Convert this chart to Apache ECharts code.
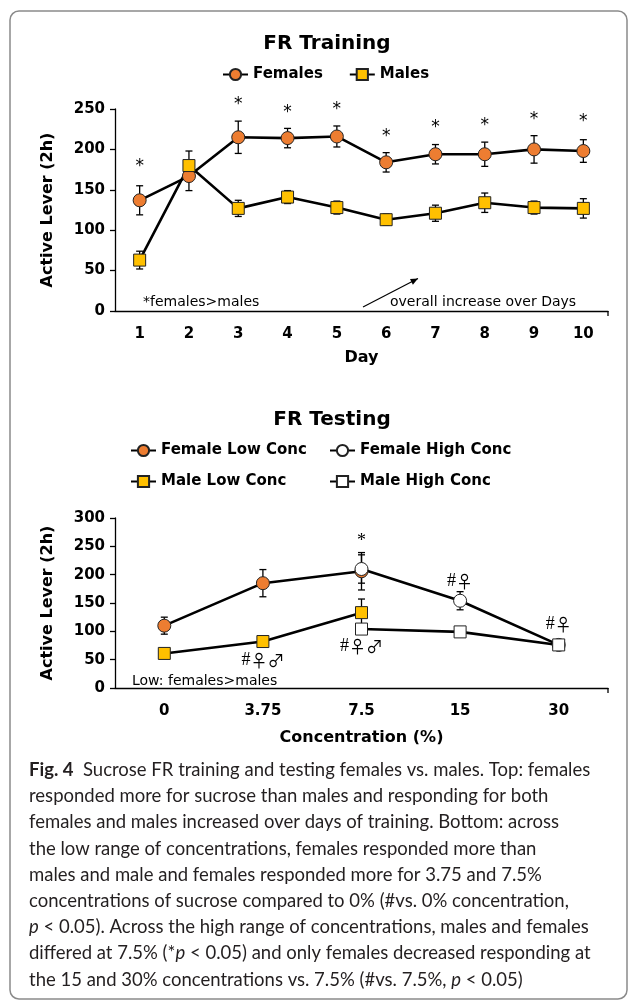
<!DOCTYPE html>
<html>
<head>
<meta charset="utf-8">
<script src="https://cdn.jsdelivr.net/npm/echarts@6/dist/echarts.min.js"></script>
<style>
  html, body { margin: 0; padding: 0; background: #fff; }
  #chart { width: 629px; height: 1004px; }
</style>
</head>
<body>
<div id="chart"></div>
<script>
// top panel: FR training by day
const days = ['1', '2', '3', '4', '5', '6', '7', '8', '9', '10'];
const femalesTrain = [137, 167, 215, 214, 216, 184, 194, 194, 200, 198];
const femalesTrainErr = [18, 18, 20, 12, 13, 12, 12, 15, 17, 14];
const malesTrain = [63, 180, 127, 141, 128, 113, 121, 134, 128, 127];
const malesTrainErr = [11, 18, 10, 8, 8, 7, 10, 12, 8, 12];
// where the "*" marks sit (same units as the y axis)
const trainStars = [184, null, 260, 251, 254, 221, 232, 234, 242, 239];

// bottom panel: FR testing by concentration
const concs = ['0', '3.75', '7.5', '15', '30'];
const femaleLow = [110, 185, 206, null, null];
const femaleLowErr = [15, 24, 33, null, null];
const femaleHigh = [null, null, 210, 154, 76];
const femaleHighErr = [null, null, 25, 16, 4];
const maleLow = [61, 82, 133, null, null];
const maleLowErr = [5, 5, 24, null, null];
const maleHigh = [null, null, 104, 99, 76];
const maleHighErr = [null, null, 5, 5, 5];
const testMarks = [
  ['7.5', 259, '*'],
  ['15', 188, '#♀'],
  ['30', 112, '#♀'],
  ['3.75', 49, '#♀♂'],
  ['7.5', 73, '#♀♂']
];

const captionLines = [
  '{b|Fig. 4}  Sucrose FR training and testing females vs. males. Top: females',
  'responded more for sucrose than males and responding for both',
  'females and males increased over days of training. Bottom: across',
  'the low range of concentrations, females responded more than',
  'males and male and females responded more for 3.75 and 7.5%',
  'concentrations of sucrose compared to 0% (#vs. 0% concentration,',
  '{i|p} < 0.05). Across the high range of concentrations, males and females',
  'differed at 7.5% (*{i|p} < 0.05) and only females decreased responding at',
  'the 15 and 30% concentrations vs. 7.5% (#vs. 7.5%, {i|p} < 0.05)'
];

const ORANGE = '#ED7D31';
const GOLD = '#FFC000';
const FONT = 'DejaVu Sans';
const CAP_SIZE = 18.5;

const myChart = echarts.init(document.getElementById('chart'), null, { renderer: 'canvas' });

const toNull = arr => arr.map(v => (v == null ? '-' : v));

const errorSeries = (vals, errs, axisIdx) => ({
  type: 'custom',
  xAxisIndex: axisIdx,
  yAxisIndex: axisIdx,
  z: 1,
  silent: true,
  encode: { x: 0, y: 1 },
  data: vals.map((v, i) => (v == null ? null : [i, v, errs[i]])).filter(d => d),
  renderItem: (params, api) => {
    const x = api.value(0), v = api.value(1), e = api.value(2);
    const hi = api.coord([x, v + e]);
    const lo = api.coord([x, v - e]);
    const w = 3.5;
    const st = { stroke: '#000', lineWidth: 1.3 };
    return {
      type: 'group',
      children: [
        { type: 'line', shape: { x1: hi[0], y1: hi[1], x2: lo[0], y2: lo[1] }, style: st },
        { type: 'line', shape: { x1: hi[0] - w, y1: hi[1], x2: hi[0] + w, y2: hi[1] }, style: st },
        { type: 'line', shape: { x1: lo[0] - w, y1: lo[1], x2: lo[0] + w, y2: lo[1] }, style: st }
      ]
    };
  }
});

const textSeries = (data, axisIdx, font, size, dy) => ({
  type: 'custom',
  xAxisIndex: axisIdx,
  yAxisIndex: axisIdx,
  z: 5,
  silent: true,
  encode: { x: 0, y: 1 },
  data: data,
  renderItem: (params, api) => {
    const p = api.coord([api.value(0), api.value(1)]);
    // sex symbols get a bigger glyph font, like the original
    const txt = String(data[params.dataIndex][2]).replace(/[♀♂]+/, '{s|$&}');
    return {
      type: 'text',
      x: p[0],
      y: p[1] + dy,
      style: {
        text: txt,
        fontFamily: font,
        fontSize: size,
        fill: '#000',
        align: 'center',
        verticalAlign: 'middle',
        rich: {
          s: { fontFamily: 'Noto Sans CJK JP', fontSize: size - 1, fill: '#000' }
        }
      }
    };
  }
});

const lineSeries = (name, vals, axisIdx, symbol, color, size) => ({
  name: name,
  type: 'line',
  xAxisIndex: axisIdx,
  yAxisIndex: axisIdx,
  data: toNull(vals),
  symbol: symbol,
  symbolSize: size,
  showAllSymbol: true,
  z: 3,
  lineStyle: { color: '#000', width: 2.6 },
  itemStyle: { color: color, borderColor: '#222', borderWidth: 1 }
});

const catAxis = (data, gridIndex, name, gap) => ({
  type: 'category',
  gridIndex: gridIndex,
  data: data,
  boundaryGap: true,
  name: name,
  nameLocation: 'middle',
  nameGap: gap,
  nameTextStyle: { fontFamily: FONT, fontWeight: 'bold', fontSize: 16, color: '#000' },
  axisLine: { lineStyle: { color: '#000', width: 1.3 } },
  axisTick: { alignWithLabel: true, length: 5, lineStyle: { color: '#000', width: 1.3 } },
  axisLabel: { margin: 16, fontFamily: FONT, fontWeight: 'bold', fontSize: 15, color: '#000' },
  splitLine: { show: false }
});

const valAxis = (gridIndex, max) => ({
  type: 'value',
  gridIndex: gridIndex,
  min: 0,
  max: max,
  interval: 50,
  name: 'Active Lever (2h)',
  nameLocation: 'middle',
  nameGap: 59,
  nameTextStyle: { fontFamily: FONT, fontWeight: 'bold', fontSize: 16, color: '#000' },
  axisLine: { show: true, lineStyle: { color: '#000', width: 1.3 } },
  axisTick: { show: true, length: 5, lineStyle: { color: '#000', width: 1.3 } },
  axisLabel: { margin: 10, fontFamily: FONT, fontWeight: 'bold', fontSize: 15, color: '#000' },
  splitLine: { show: false }
});

const legendText = { fontFamily: FONT, fontWeight: 'bold', fontSize: 15, color: '#000' };
const oneLegend = (name, left, top) => ({
  data: [name], left: left, top: top, orient: 'horizontal',
  itemWidth: 25, itemHeight: 14, itemGap: 26, padding: 0, textStyle: legendText
});

// arrow for "overall increase over Days"
const ax0 = [363, 307], ax1 = [418, 278.5];
const ang = Math.atan2(ax1[1] - ax0[1], ax1[0] - ax0[0]);
const head = (a, l) => [ax1[0] - l * Math.cos(ang + a), ax1[1] - l * Math.sin(ang + a)];

// small end ticks at the right end of both x axes
const endTick = (y) => ({ type: 'line', shape: { x1: 608, y1: y, x2: 608, y2: y + 5 },
  style: { stroke: '#000', lineWidth: 1.3 } });

const option = {
  backgroundColor: '#fff',
  animation: false,
  title: [
    { text: 'FR Training', left: 322, top: 29, textAlign: 'center',
      textStyle: { fontFamily: FONT, fontWeight: 'bold', fontSize: 20, color: '#000' } },
    { text: 'FR Testing', left: 327, top: 405, textAlign: 'center',
      textStyle: { fontFamily: FONT, fontWeight: 'bold', fontSize: 20, color: '#000' } }
  ],
  legend: [
    { data: ['Females', 'Males'], left: 222, top: 67, itemWidth: 25, itemHeight: 14,
      itemGap: 26, padding: 0, textStyle: legendText },
    oneLegend('Female Low Conc', 130, 443),
    oneLegend('Female High Conc', 329, 443),
    oneLegend('Male Low Conc', 130, 474),
    oneLegend('Male High Conc', 329, 474)
  ],
  grid: [
    { left: 115, top: 109, width: 493, height: 202 },
    { left: 115, top: 518, width: 493, height: 170 }
  ],
  xAxis: [catAxis(days, 0, 'Day', 39), catAxis(concs, 1, 'Concentration (%)', 42)],
  yAxis: [valAxis(0, 250), valAxis(1, 300)],
  series: [
    errorSeries(femalesTrain, femalesTrainErr, 0),
    errorSeries(malesTrain, malesTrainErr, 0),
    lineSeries('Females', femalesTrain, 0, 'circle', ORANGE, 13),
    lineSeries('Males', malesTrain, 0, 'rect', GOLD, 12),
    textSeries(trainStars.map((v, i) => (v == null ? null : [i, v, '*'])).filter(d => d), 0, FONT, 17, 4),

    errorSeries(femaleLow, femaleLowErr, 1),
    errorSeries(femaleHigh, femaleHighErr, 1),
    errorSeries(maleLow, maleLowErr, 1),
    errorSeries(maleHigh, maleHighErr, 1),
    lineSeries('Female Low Conc', femaleLow, 1, 'circle', ORANGE, 13),
    lineSeries('Female High Conc', femaleHigh, 1, 'circle', '#fff', 13),
    lineSeries('Male Low Conc', maleLow, 1, 'rect', GOLD, 12),
    lineSeries('Male High Conc', maleHigh, 1, 'rect', '#fff', 12),
    textSeries(testMarks.map(m => [concs.indexOf(m[0]), m[1], m[2]]), 1,
      "'Liberation Serif', serif", 18, 0)
  ],
  graphic: [
    { type: 'rect', shape: { x: 10, y: 11, width: 617, height: 988, r: 9 },
      style: { fill: 'none', stroke: '#8a8a8a', lineWidth: 1.5 }, z: 0 },
    endTick(311),
    endTick(688),
    { type: 'text', x: 143, y: 302, style: { text: '*females>males', fontFamily: FONT,
      fontSize: 14, fill: '#000', verticalAlign: 'middle' } },
    { type: 'text', x: 390, y: 302, style: { text: 'overall increase over Days', fontFamily: FONT,
      fontSize: 14, fill: '#000', verticalAlign: 'middle' } },
    { type: 'line', shape: { x1: ax0[0], y1: ax0[1], x2: ax1[0], y2: ax1[1] },
      style: { stroke: '#000', lineWidth: 1.2 } },
    { type: 'polygon', shape: { points: [ax1, head(0.4, 8), head(-0.4, 8)] },
      style: { fill: '#000' } },
    { type: 'text', x: 132, y: 681, style: { text: 'Low: females>males', fontFamily: FONT,
      fontSize: 14, fill: '#000', verticalAlign: 'middle' } }
  ].concat(captionLines.map((t, i) => ({
    type: 'text', x: 29, y: 770 + i * 26.2,
    style: {
      text: t, fontFamily: 'Lato', fontSize: CAP_SIZE, fill: '#231f20', verticalAlign: 'middle',
      rich: {
        b: { fontFamily: 'Lato', fontWeight: 'bold', fontSize: CAP_SIZE, fill: '#231f20' },
        i: { fontFamily: 'Lato', fontStyle: 'italic', fontSize: CAP_SIZE, fill: '#231f20' }
      }
    }
  })))
};

myChart.setOption(option);
</script>
</body>
</html>
